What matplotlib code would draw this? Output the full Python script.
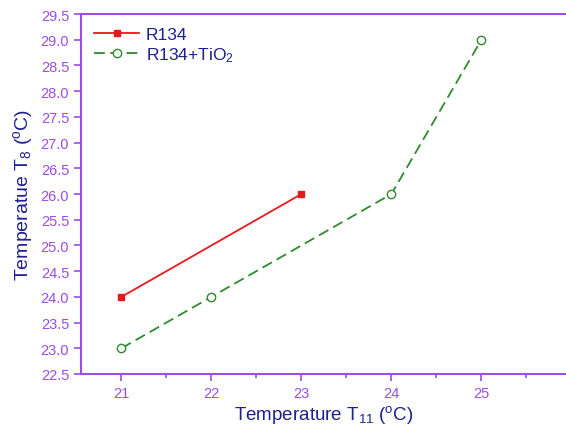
import matplotlib
matplotlib.use('Agg')
import matplotlib.pyplot as plt
from matplotlib.ticker import MultipleLocator

plt.rcParams['font.family'] = ['Liberation Sans', 'DejaVu Sans']
plt.rcParams['mathtext.fontset'] = 'custom'
plt.rcParams['mathtext.rm'] = 'Liberation Sans'
plt.rcParams['mathtext.it'] = 'Liberation Sans'

# data
r134_x = [21, 23]
r134_y = [24.0, 26.0]
tio2_x = [21, 22, 24, 25]
tio2_y = [23.0, 24.0, 26.0, 29.0]

axis_col = '#9b4de6'
text_col = '#1f1f8f'

fig = plt.figure(figsize=(5.66, 4.31), dpi=100)
ax = fig.add_axes([0.143, 0.130, 0.857, 0.835])

ax.plot(r134_x, r134_y, color='#e8191c', lw=1.3, marker='s', ms=5,
        mfc='#e8191c', mec='#e8191c', label='R134')
ax.plot(tio2_x, tio2_y, color='#2e8b2e', lw=1.3, ls=(0, (6, 3)), marker='o', ms=6,
        mfc='white', mec='#2e8b2e', label='R134+TiO$_2$')

ax.set_xlim(20.55, 25.94)
ax.set_ylim(22.5, 29.5)
ax.xaxis.set_major_locator(MultipleLocator(1))
ax.xaxis.set_minor_locator(MultipleLocator(0.5))
ax.yaxis.set_major_locator(MultipleLocator(0.5))
ax.yaxis.set_major_formatter(plt.FormatStrFormatter('%.1f'))

for s in ['left', 'bottom', 'top']:
    ax.spines[s].set_color(axis_col)
    ax.spines[s].set_linewidth(1.5)
ax.spines['right'].set_visible(False)
ax.tick_params(which='both', direction='out', colors=axis_col, labelsize=10.5, width=1.2)
ax.tick_params(which='major', length=5)
ax.tick_params(which='minor', length=3)
ax.tick_params(axis='x', pad=4)

ax.set_xlabel('Temperature T$_{11}$ ($^o$C)', color=text_col, fontsize=13.5, labelpad=2)
ax.set_ylabel('Temperatue T$_8$ ($^o$C)', color=text_col, fontsize=14, labelpad=4)

leg = ax.legend(loc='upper left', frameon=False, fontsize=12.5, handlelength=2.6,
                handletextpad=0.4, borderaxespad=0.35, borderpad=0.4,
                labelspacing=0.15)
for t in leg.get_texts():
    t.set_color(text_col)

fig.savefig('out.png', dpi=100)
